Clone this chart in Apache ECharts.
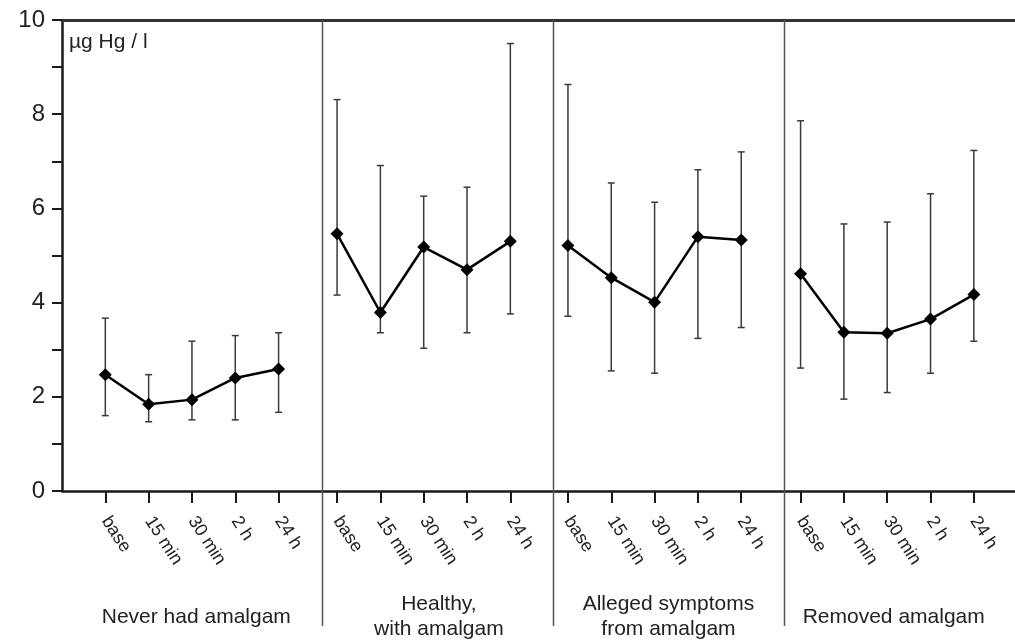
<!DOCTYPE html>
<html>
<head>
<meta charset="utf-8">
<script src="https://cdn.jsdelivr.net/npm/echarts@6/dist/echarts.min.js"></script>
<style>
  html, body { margin: 0; background: #fff; }
  #chart { width: 1015px; height: 640px; }
</style>
</head>
<body>
<div id="chart"></div>
<script>
const timeLabels = ["base", "15 min", "30 min", "2 h", "24 h"];
const groupNames = ["Never had amalgam", "Healthy,\nwith amalgam", "Alleged symptoms\nfrom amalgam", "Removed amalgam"];
const yTicks = [0, 2, 4, 6, 8, 10];

// mean and error bar ends, one triple of arrays per group
const meanNever = [2.47, 1.84, 1.94, 2.40, 2.59];
const lowNever = [1.60, 1.47, 1.51, 1.51, 1.67];
const highNever = [3.67, 2.47, 3.18, 3.30, 3.36];

const meanHealthy = [5.46, 3.79, 5.18, 4.70, 5.30];
const lowHealthy = [4.16, 3.36, 3.03, 3.36, 3.76];
const highHealthy = [8.31, 6.91, 6.26, 6.45, 9.50];

const meanAlleged = [5.21, 4.53, 4.01, 5.40, 5.33];
const lowAlleged = [3.71, 2.55, 2.50, 3.24, 3.47];
const highAlleged = [8.63, 6.54, 6.13, 6.82, 7.20];

const meanRemoved = [4.61, 3.37, 3.35, 3.65, 4.17];
const lowRemoved = [2.61, 1.95, 2.09, 2.50, 3.18];
const highRemoved = [7.86, 5.67, 5.71, 6.31, 7.23];

const means = [meanNever, meanHealthy, meanAlleged, meanRemoved];
const lows = [lowNever, lowHealthy, lowAlleged, lowRemoved];
const highs = [highNever, highHealthy, highAlleged, highRemoved];

// layout of the shared x scale (one unit = spacing between time points)
const panelStart = [1, 6.35, 11.68, 17.05];
const dividers = [6.0, 11.33, 16.67];
const titleX = [3.1, 8.7, 14.0, 19.2];
const xMax = 22;

const font = "Liberation Sans, Arial, sans-serif";

const tickPos = [];
const tickText = [];
panelStart.forEach((s) => {
  timeLabels.forEach((t, i) => {
    tickPos.push(+(s + i).toFixed(2));
    tickText.push(t);
  });
});

function labelFor(v) {
  const idx = tickPos.findIndex((p) => Math.abs(p - v) < 0.01);
  return idx >= 0 ? tickText[idx] : "";
}

const lineSeries = means.map((m, g) => ({
  type: "line",
  z: 3,
  data: m.map((v, i) => [panelStart[g] + i, v]),
  symbol: "diamond",
  symbolSize: 13,
  itemStyle: { color: "#000" },
  lineStyle: { color: "#000", width: 2.5 },
}));

const errorData = [];
lows.forEach((lo, g) => {
  lo.forEach((v, i) => {
    errorData.push([panelStart[g] + i, v, highs[g][i]]);
  });
});

const errorSeries = {
  type: "custom",
  z: 2,
  data: errorData,
  encode: { x: 0, y: [1, 2] },
  renderItem: (params, api) => {
    const x = api.value(0);
    const lo = api.coord([x, api.value(1)]);
    const hi = api.coord([x, api.value(2)]);
    const w = 3.5;
    const style = { stroke: "#3a3a3a", lineWidth: 1.5 };
    return {
      type: "group",
      children: [
        { type: "line", shape: { x1: lo[0], y1: lo[1], x2: hi[0], y2: hi[1] }, style },
        { type: "line", shape: { x1: lo[0] - w, y1: lo[1], x2: lo[0] + w, y2: lo[1] }, style },
        { type: "line", shape: { x1: hi[0] - w, y1: hi[1], x2: hi[0] + w, y2: hi[1] }, style },
      ],
    };
  },
};

const chart = echarts.init(document.getElementById("chart"), null, { renderer: "canvas" });

const option = {
  animation: false,
  backgroundColor: "#fff",
  grid: { left: 62, right: 0, top: 20, bottom: 149, containLabel: false },
  xAxis: [
    {
      type: "value",
      min: 0,
      max: xMax,
      splitLine: { show: false },
      axisLine: { onZero: false, lineStyle: { color: "#1a1a1a", width: 2.5 } },
      axisTick: {
        customValues: tickPos,
        length: 12,
        lineStyle: { color: "#1a1a1a", width: 2 },
      },
      axisLabel: {
        customValues: tickPos,
        formatter: labelFor,
        rotate: -57,
        margin: 27,
        fontSize: 18,
        fontFamily: font,
        color: "#222",
      },
    },
    {
      type: "value",
      position: "top",
      min: 0,
      max: xMax,
      splitLine: { show: false },
      axisLine: { onZero: false, lineStyle: { color: "#333", width: 3 } },
      axisTick: { show: false },
      axisLabel: { show: false },
    },
  ],
  yAxis: [
    {
      type: "value",
      min: 0,
      max: 10,
      interval: 1,
      splitLine: { show: false },
      axisLine: { show: true, onZero: false, lineStyle: { color: "#1a1a1a", width: 2.5 } },
      axisTick: { length: 10, lineStyle: { color: "#1a1a1a", width: 2 } },
      axisLabel: {
        formatter: (v) => (yTicks.includes(v) ? String(v) : ""),
        fontSize: 24,
        fontFamily: font,
        color: "#222",
        margin: 17,
      },
    },
    {
      type: "value",
      position: "right",
      min: 0,
      max: 10,
      splitLine: { show: false },
      axisLine: { show: true, onZero: false, lineStyle: { color: "#bbb", width: 1 } },
      axisTick: { show: false },
      axisLabel: { show: false },
    },
  ],
  series: [errorSeries, ...lineSeries],
};

chart.setOption(option);

// dividers and group names placed through the axis scale
const topY = chart.convertToPixel({ yAxisIndex: 0 }, 10);
const graphics = dividers.map((d) => {
  const x = Math.round(chart.convertToPixel({ xAxisIndex: 0 }, d)) + 0.5;
  return {
    type: "line",
    z: 1,
    shape: { x1: x, y1: topY, x2: x, y2: 626 },
    style: { stroke: "#555", lineWidth: 1.5 },
  };
});
groupNames.forEach((name, g) => {
  graphics.push({
    type: "text",
    x: chart.convertToPixel({ xAxisIndex: 0 }, titleX[g]),
    y: 617,
    style: {
      text: name,
      font: `21px ${font}`,
      fill: "#222",
      textAlign: "center",
      textVerticalAlign: "middle",
      lineHeight: 25,
    },
  });
});
graphics.push({
  type: "text",
  x: 69,
  y: 42,
  style: {
    text: "µg Hg / l",
    font: `21px ${font}`,
    fill: "#222",
    textAlign: "left",
    textVerticalAlign: "middle",
  },
});
chart.setOption({ graphic: graphics });
</script>
</body>
</html>
